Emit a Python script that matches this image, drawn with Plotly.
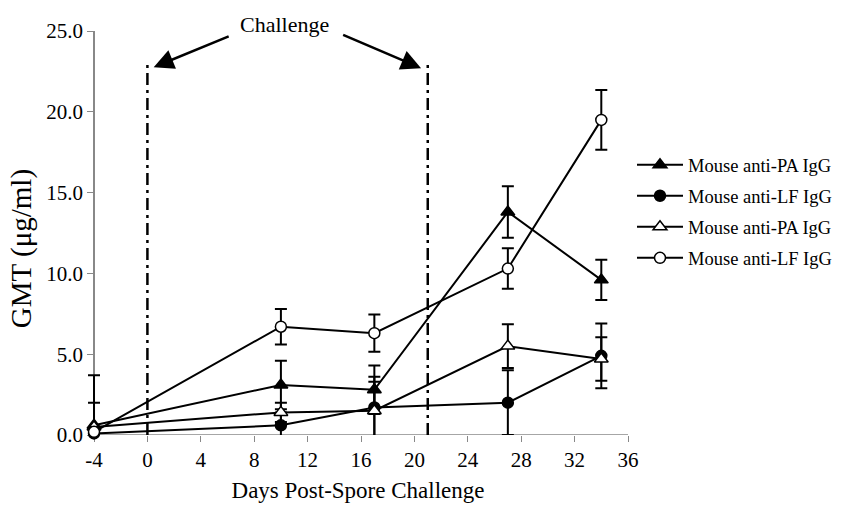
import plotly.graph_objects as go

days = [-4, 10, 17, 27, 34]

pa_filled = [0.6, 3.1, 2.8, 13.8, 9.6]
pa_filled_err = [3.1, 1.5, 1.5, 1.6, 1.25]

lf_filled = [0.1, 0.6, 1.7, 2.0, 4.9]
lf_filled_err = [0.3, 0.8, 1.9, 2.0, 2.0]

pa_open = [0.5, 1.4, 1.5, 5.5, 4.7]
pa_open_err = [1.5, 0.6, 1.8, 1.35, 1.35]

lf_open = [0.2, 6.7, 6.3, 10.3, 19.5]
lf_open_err = [0.3, 1.1, 1.15, 1.25, 1.85]

series_names = ["Mouse anti-PA IgG", "Mouse anti-LF IgG", "Mouse anti-PA IgG", "Mouse anti-LF IgG"]

x_ticks = list(range(-4, 37, 4))
x_tick_text = ["-4"] + [str(v) for v in x_ticks[1:]]
y_ticks = [0, 5, 10, 15, 20, 25]
challenge_days = [0, 21]

FONT = "Liberation Serif"
X_MIN, X_MAX = -4, 36
X_PAD = 0.45  # room so the error bar at the first day is not clipped

# plot area geometry (px)
LEFT_PX = 88
RIGHT_PX = 628
plot_w = RIGHT_PX - LEFT_PX
x_range = [X_MIN - X_PAD, X_MAX]
yaxis_pos = X_PAD / (X_MAX - X_MIN + X_PAD)

fig = go.Figure()

specs = [
    (pa_filled, pa_filled_err, "triangle-up", "black", 12),
    (lf_filled, lf_filled_err, "circle", "black", 11),
    (pa_open, pa_open_err, "triangle-up", "white", 12),
    (lf_open, lf_open_err, "circle", "white", 11),
]
for i, (name, (vals, errs, sym, fill, size)) in enumerate(zip(series_names, specs)):
    fig.add_trace(go.Scatter(
        x=days, y=vals, name=name, mode="lines+markers", legendgroup=f"g{i}",
        line=dict(color="black", width=2),
        marker=dict(symbol=sym, size=size, color=fill, line=dict(color="black", width=1.5)),
        error_y=dict(type="data", array=errs, visible=True, color="black", thickness=2, width=6),
        cliponaxis=False,
    ))

# x axis line starting at the y axis
fig.add_shape(type="line", x0=X_MIN, x1=X_MAX, y0=0, y1=0, xref="x", yref="y",
              line=dict(color="#888", width=1.5), layer="below")

for d in challenge_days:
    fig.add_shape(type="line", x0=d, x1=d, y0=0, y1=23, xref="x", yref="y",
                  line=dict(color="black", width=2.5, dash="12px,5px,3px,5px"))

fig.add_annotation(x=10.3, y=1.015, xref="x", yref="paper", text="Challenge", showarrow=False,
                   yanchor="middle", font=dict(family=FONT, size=22, color="black"))
fig.add_annotation(x=0.47, y=22.76, ax=6.2, ay=24.7, xref="x", yref="y", axref="x", ayref="y",
                   text="", showarrow=True, arrowhead=2, arrowsize=1.6, arrowwidth=2.5, arrowcolor="black")
fig.add_annotation(x=20.5, y=22.7, ax=14.55, ay=24.8, xref="x", yref="y", axref="x", ayref="y",
                   text="", showarrow=True, arrowhead=2, arrowsize=1.6, arrowwidth=2.5, arrowcolor="black")

fig.add_annotation(x=(21 - LEFT_PX) / plot_w, y=0.46, xref="paper", yref="paper", text="GMT (μg/ml)",
                   textangle=-90, showarrow=False, xanchor="center", yanchor="middle",
                   font=dict(family=FONT, size=29, color="black"))

fig.update_layout(
    width=844, height=506,
    margin=dict(l=LEFT_PX, r=844 - RIGHT_PX, t=31, b=71, autoexpand=False),
    paper_bgcolor="white", plot_bgcolor="white",
    font=dict(family=FONT, size=21, color="black"),
    showlegend=True,
    legend=dict(x=(632 - LEFT_PX) / plot_w, y=0.715, xanchor="left", yanchor="top",
                font=dict(family=FONT, size=18.5, color="black"),
                traceorder="grouped", tracegroupgap=4,
                bgcolor="rgba(0,0,0,0)", itemwidth=46),
    xaxis=dict(range=x_range, tickvals=x_ticks, ticktext=x_tick_text, ticks="outside", ticklen=6,
               tickcolor="#888", layer="below traces",
               showline=False, showgrid=False, zeroline=False,
               title=dict(text="Days Post-Spore Challenge", font=dict(size=23), standoff=10),
               tickfont=dict(size=21)),
    yaxis=dict(range=[0, 25], tickvals=y_ticks, tickformat=".1f", ticks="outside", ticklen=6,
               anchor="free", position=yaxis_pos,
               tickcolor="#888", layer="below traces", showline=True, linecolor="#888", linewidth=1.5,
               showgrid=False, zeroline=False, tickfont=dict(size=21)),
)

fig.write_html("out.html")
